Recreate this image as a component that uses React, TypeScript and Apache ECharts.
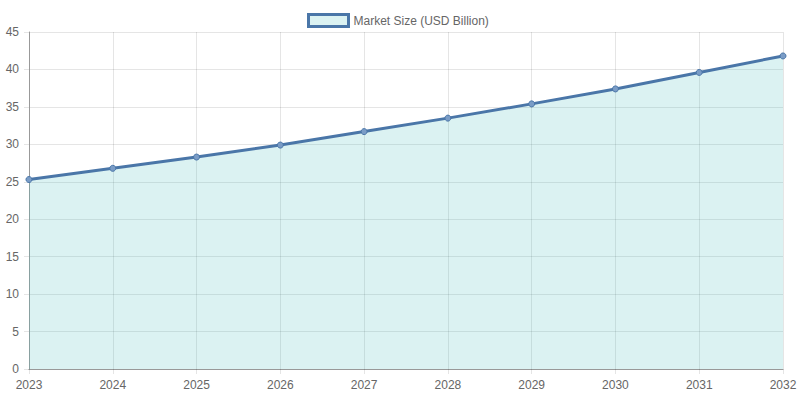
import React, { useEffect, useRef } from "react";
import * as echarts from "echarts";

const years = ["2023", "2024", "2025", "2026", "2027", "2028", "2029", "2030", "2031", "2032"];
const marketSize = [25.3, 26.8, 28.3, 29.9, 31.7, 33.5, 35.4, 37.4, 39.6, 41.8];
const seriesName = "Market Size (USD Billion)";

const LINE = "#4a76a8";
const FILL = "rgba(75, 192, 192, 0.2)";
const GRID = "rgba(0,0,0,0.1)";
const FONT = "'Liberation Sans', Arial, Helvetica, sans-serif";

export default function App() {
  const ref = useRef<HTMLDivElement>(null);
  useEffect(() => {
    if (!ref.current) return;
    const chart = echarts.init(ref.current, undefined, { renderer: "svg" });
    chart.setOption({
      animation: false,
      textStyle: { fontFamily: FONT },
      legend: {
        top: 8,
        left: 302,
        itemWidth: 40,
        itemHeight: 12,
        itemGap: 10,
        icon: "rect",
        data: [seriesName],
        textStyle: { color: "#666", fontSize: 12, fontFamily: FONT },
        itemStyle: { color: FILL, borderColor: LINE, borderWidth: 3, opacity: 1 },
      },
      grid: { left: 29, right: 17, top: 32, bottom: 31, containLabel: false },
      xAxis: {
        type: "category",
        data: years,
        boundaryGap: false,
        axisLine: { show: true, lineStyle: { color: "#999", width: 1 } },
        axisTick: { show: true, length: 5, alignWithLabel: true, lineStyle: { color: GRID } },
        axisLabel: { color: "#666", fontSize: 12, margin: 10, fontFamily: FONT },
        splitLine: { show: true, lineStyle: { color: GRID } },
      },
      yAxis: {
        type: "value",
        min: 0,
        max: 45,
        interval: 5,
        axisLine: { show: true, lineStyle: { color: "#999", width: 1 } },
        axisTick: { show: true, length: 5, lineStyle: { color: GRID } },
        axisLabel: { color: "#666", fontSize: 12, margin: 10, fontFamily: FONT },
        splitLine: { show: true, lineStyle: { color: GRID } },
      },
      series: [
        {
          name: seriesName,
          type: "line",
          data: marketSize,
          symbol: "circle",
          symbolSize: 6,
          showSymbol: true,
          lineStyle: { color: LINE, width: 3 },
          itemStyle: { color: "#7a9cc6", borderColor: LINE, borderWidth: 1 },
          areaStyle: { color: FILL, opacity: 1, origin: "start" },
        },
      ],
    });
    return () => chart.dispose();
  }, []);
  return <div ref={ref} style={{ width: 800, height: 400, position: "absolute", left: 0, top: 0 }} />;
}
